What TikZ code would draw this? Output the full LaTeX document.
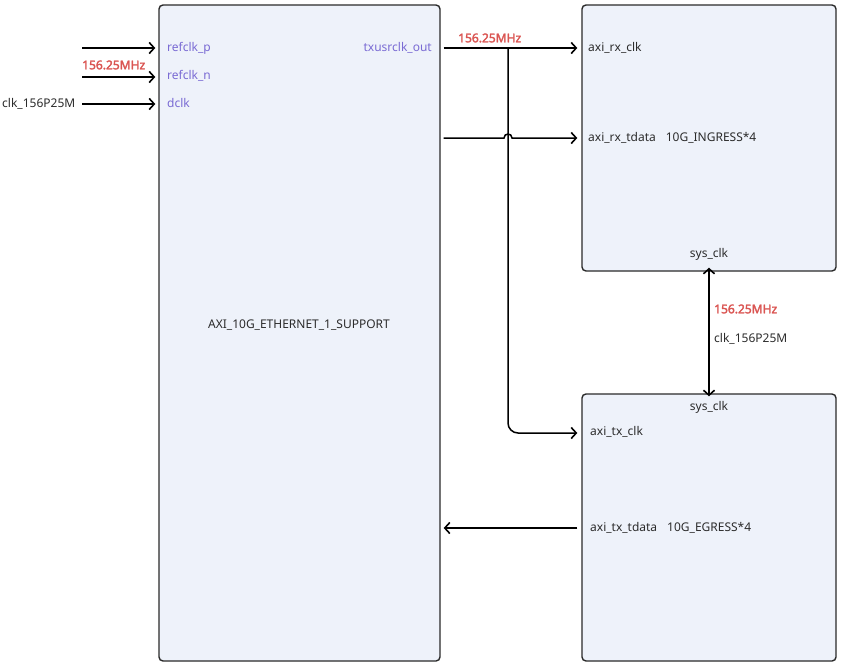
\documentclass[tikz,border=0pt]{standalone}
\usepackage{fontspec}
\setmainfont{Noto Sans}[AutoFakeBold=2.5]
\usetikzlibrary{arrows.meta}
\definecolor{boxfill}{HTML}{EEF2FA}
\definecolor{boxline}{HTML}{2A2A2A}
\definecolor{portcol}{HTML}{7A6BD4}
\definecolor{freqcol}{HTML}{DA5552}
\definecolor{txtcol}{HTML}{2B2B2B}
\tikzset{
  box/.style={draw=boxline, fill=boxfill, line width=1.4pt, rounded corners=4pt, inner sep=0pt},
  lbl/.style={font=\fontsize{12}{14}\selectfont, text=txtcol, inner sep=0pt},
  port/.style={lbl, text=portcol},
  freq/.style={font=\fontsize{12}{14}\selectfont\bfseries, text=freqcol, inner sep=0pt},
  tip/.tip={Straight Barb[length=5pt,width=11pt,line width=1.6pt]},
  wire/.style={draw=black, line width=1.5pt, -tip},
  wire2/.style={draw=black, line width=1.5pt, tip-tip},
}
\begin{document}
\begin{tikzpicture}[x=1pt,y=-1pt]
\useasboundingbox (0,0) rectangle (844,664);
% boxes
\node[box, minimum width=281pt, minimum height=656pt] (main) at (299.5,333) {};
\node[box, minimum width=254pt, minimum height=266pt] (rx) at (709,138) {};
\node[box, minimum width=254pt, minimum height=267pt] (tx) at (709,527.5) {};
% main labels
\node[lbl] (mainname) at (299,325) {AXI\_10G\_ETHERNET\_1\_SUPPORT};
\node[port, anchor=west] (refp) at (167,48) {refclk\_p};
\node[port, anchor=west] (refn) at (167,76) {refclk\_n};
\node[port, anchor=west] (dclk) at (167,103) {dclk};
\node[port, anchor=east] (txo) at (432,48) {txusrclk\_out};
% rx labels
\node[lbl, anchor=west] (rxclk) at (588,48) {axi\_rx\_clk};
\node[lbl, anchor=west] (rxdata) at (588,138) {axi\_rx\_tdata\hspace{10pt}10G\_INGRESS*4};
\node[lbl] (rxsys) at (709,254) {sys\_clk};
% tx labels
\node[lbl] (txsys) at (709,407) {sys\_clk};
\node[lbl, anchor=west] (txclk) at (590,432) {axi\_tx\_clk};
\node[lbl, anchor=west] (txdata) at (590,528) {axi\_tx\_tdata\hspace{10pt}10G\_EGRESS*4};
% left inputs
\coordinate (inp) at (82,48);
\coordinate (inn) at (82,77);
\coordinate (ind) at (82,104);
\node[freq, anchor=west] (f1) at (82,65) {156.25MHz};
\node[lbl, anchor=west] (clkin) at (2,104) {clk\_156P25M};
\draw[wire] (inp) -- ([xshift=-3pt]inp -| main.west);
\draw[wire] (inn) -- ([xshift=-3pt]inn -| main.west);
\draw[wire] (ind) -- ([xshift=-3pt]ind -| main.west);
% right side
\coordinate (o1) at ([xshift=3pt]main.east |- 0,48);
\coordinate (o2) at ([xshift=3pt]main.east |- 0,138);
\coordinate (r1) at ([xshift=-4pt]rx.west |- 0,48);
\coordinate (r2) at ([xshift=-4pt]rx.west |- 0,138);
\coordinate (t1) at ([xshift=-4pt]tx.west |- 0,433);
\coordinate (t2) at ([xshift=-4pt]tx.west |- 0,528);
\coordinate (o3) at ([xshift=3pt]main.east |- 0,528);
\coordinate (split) at (508,48);
\node[freq, anchor=west] (f2) at (458,38) {156.25MHz};
\draw[wire] (o1) -- (r1);
\draw[wire, rounded corners=10pt] (split) |- (t1);
\draw[wire] (o2) -- (504,138) .. controls (504,132.7) and (512,132.7) .. (512,138) -- (r2);
\draw[wire] (t2) -- (o3);
% sys clk link
\coordinate (s1) at ([yshift=4pt]rx.south);
\coordinate (s2) at ([yshift=-3pt]tx.north);
\draw[wire2] (s1) -- (s2);
\node[freq, anchor=west] (f3) at (714,309) {156.25MHz};
\node[lbl, anchor=west] (clkmid) at (714,339) {clk\_156P25M};
\end{tikzpicture}
\end{document}
